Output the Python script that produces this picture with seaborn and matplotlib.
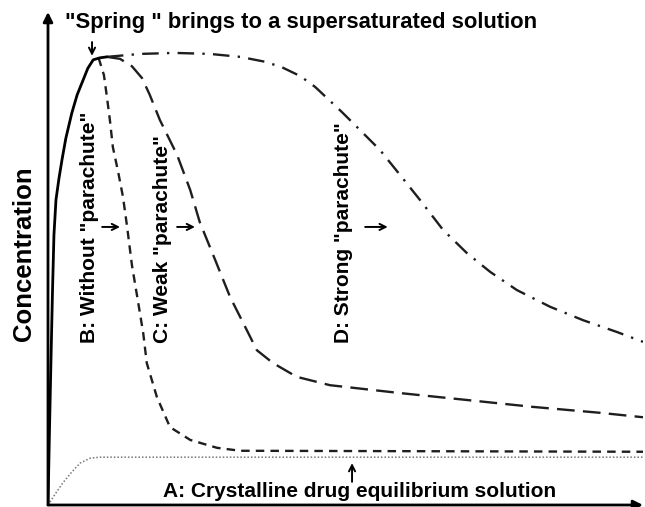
import numpy as np
import pandas as pd
import seaborn as sns
import matplotlib.pyplot as plt

# Curves (time 0-10, concentration 0-10, arbitrary units)
spring_t = [0.0, 0.025, 0.050, 0.076, 0.10, 0.134, 0.185, 0.235, 0.30, 0.40, 0.49, 0.59, 0.67, 0.76, 0.87, 0.99]
spring_c = [0.0, 1.52, 2.94, 4.36, 5.48, 6.19, 6.63, 7.00, 7.44, 7.95, 8.32, 8.62, 8.86, 9.03, 9.07, 9.09]

# A: crystalline drug equilibrium
a_t = [0.0, 0.12, 0.25, 0.40, 0.54, 0.71, 0.87, 10.0]
a_c = [0.0, 0.22, 0.45, 0.67, 0.85, 0.95, 0.97, 0.97]

# B: without parachute
b_t = [0.85, 0.94, 0.99, 1.04, 1.09, 1.18, 1.26, 1.33, 1.41, 1.50, 1.60, 1.66, 1.83, 2.05,
       2.39, 2.84, 3.23, 10.0]
b_c = [9.07, 8.72, 8.28, 7.81, 7.26, 6.75, 6.25, 5.64, 4.87, 4.22, 3.49, 2.88, 2.19, 1.58,
       1.32, 1.16, 1.10, 1.08]

# C: weak parachute
c_t = [0.99, 1.21, 1.41, 1.58, 1.71, 1.88, 2.17, 2.39, 2.55, 2.81, 3.06, 3.34, 3.51, 3.78,
       4.18, 4.74, 5.92, 7.04, 8.15, 9.28, 10.0]
c_c = [9.09, 9.05, 8.90, 8.66, 8.32, 7.81, 7.10, 6.39, 5.74, 4.97, 4.22, 3.55, 3.14, 2.88,
       2.60, 2.43, 2.27, 2.13, 1.99, 1.87, 1.78]

# D: strong parachute
d_t = [0.99, 1.55, 2.13, 2.72, 3.23, 3.65, 3.93, 4.24, 4.49, 4.94, 5.24, 5.58, 5.92, 6.25,
       6.64, 7.04, 7.43, 7.88, 8.44, 8.99, 9.56, 10.0]
d_c = [9.09, 9.15, 9.17, 9.15, 9.09, 8.99, 8.88, 8.70, 8.48, 7.97, 7.61, 7.20, 6.69, 6.19,
       5.58, 5.11, 4.73, 4.36, 4.02, 3.75, 3.51, 3.31]

sns.set_theme(style="white")
plt.rcParams['font.family'] = ['Liberation Sans', 'DejaVu Sans']

fig = plt.figure(figsize=(6.45, 5.07), dpi=100)
ax = fig.add_axes([48 / 645, 2 / 507, 595 / 645, 493 / 507])
ax.set_xlim(0, 10)
ax.set_ylim(0, 10)

ink = '#1e1e1e'
sns.lineplot(x=a_t, y=a_c, ax=ax, color='#777777', lw=1.1, linestyle=(0, (1, 1.3)))
sns.lineplot(x=b_t, y=b_c, ax=ax, color=ink, lw=1.7, linestyle=(0, (3.6, 2.6)))
sns.lineplot(x=c_t, y=c_c, ax=ax, color=ink, lw=1.7, linestyle=(0, (7.5, 3.5)))
sns.lineplot(x=d_t, y=d_c, ax=ax, color=ink, lw=1.7, linestyle=(0, (7, 3.5, 1, 3.5)))
sns.lineplot(x=spring_t, y=spring_c, ax=ax, color='black', lw=2.0)

# axes drawn as arrows
for sp in ax.spines.values():
    sp.set_visible(False)
ax.set_xticks([])
ax.set_yticks([])
arrow_ax = dict(arrowstyle='-|>', lw=2, color='black', mutation_scale=14, shrinkA=0, shrinkB=0)
ax.annotate('', xy=(0, 1), xytext=(0, 0), xycoords='axes fraction', arrowprops=arrow_ax)
ax.annotate('', xy=(1, 0), xytext=(0, 0), xycoords='axes fraction', arrowprops=arrow_ax)

ax.set_ylabel('Concentration', fontsize=18.5, fontweight='bold', color='black')
ax.yaxis.set_label_coords(-0.02, 0.509)

txt = dict(fontsize=15, fontweight='bold', color='black')
ax.text(0.29, 9.68, '"Spring " brings to a supersaturated solution', ha='left', va='baseline',
        fontsize=15.8, fontweight='bold', color='black')
ax.text(1.93, 0.16, 'A: Crystalline drug equilibrium solution', ha='left', va='baseline', **txt)
ax.text(0.69, 3.29, 'B: Without "parachute"', rotation=90, ha='center', va='bottom', **txt)
ax.text(1.93, 3.29, 'C: Weak "parachute"', rotation=90, ha='center', va='bottom', **txt)
ax.text(4.96, 3.29, 'D: Strong "parachute"', rotation=90, ha='center', va='bottom', **txt)

small = dict(arrowstyle='->', lw=1.4, color='black', mutation_scale=11, shrinkA=0, shrinkB=0)
ax.annotate('', xy=(0.74, 9.11), xytext=(0.74, 9.39), arrowprops=small)
ax.annotate('', xy=(5.11, 0.85), xytext=(5.11, 0.47), arrowprops=small)
ax.annotate('', xy=(1.21, 5.64), xytext=(0.91, 5.64), arrowprops=small)
ax.annotate('', xy=(2.47, 5.64), xytext=(2.17, 5.64), arrowprops=small)
ax.annotate('', xy=(5.71, 5.64), xytext=(5.33, 5.64), arrowprops=small)

fig.savefig('out.png', dpi=100)
